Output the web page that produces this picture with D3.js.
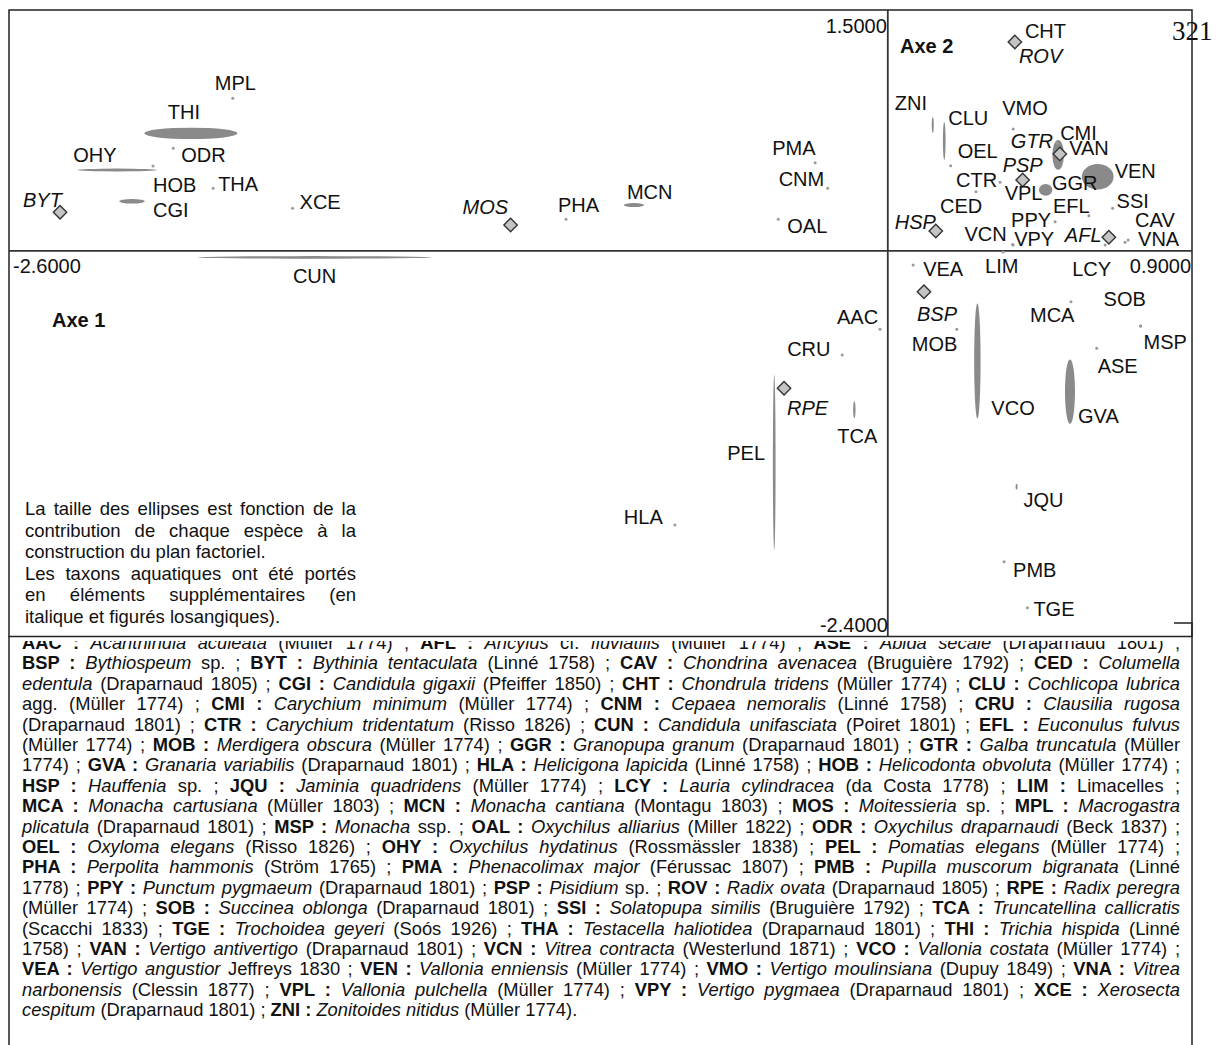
<!DOCTYPE html>
<html><head><meta charset="utf-8">
<script src="https://cdn.jsdelivr.net/npm/d3@7"></script>
<style>
html,body{margin:0;padding:0;background:#fff;}
svg{display:block;}
text{white-space:pre;}
</style></head><body>
<script>
// ---------- DATA ----------
const xDomain = [-2.6, 0.9];   // Axe 1
const yDomain = [-2.4, 1.5];   // Axe 2
const tickValuesX = [-2.6, 0.9];
const tickValuesY = [1.5, -2.4];

const species = ["MPL","THI","ODR","OHY","HOB","THA","CGI","BYT","XCE","MOS","PHA","MCN","PMA","CNM","OAL",
  "CUN","HLA","PEL","RPE","CRU","AAC","TCA","CHT","ROV","ZNI","CLU","VMO","OEL","CMI","GTR","VAN","PSP","CTR",
  "VPL","GGR","VEN","CED","EFL","SSI","PPY","VPY","VCN","HSP","AFL","LCY","VNA","CAV","LIM","VEA","BSP","MOB",
  "MCA","SOB","MSP","ASE","VCO","GVA","JQU","PMB","TGE"];
const axis1 = [-1.938,-2.062,-2.114,-2.280,-2.174,-1.996,-2.236,-2.449,-1.761,-1.116,-0.952,-0.751,-0.215,-0.178,-0.324,
  -1.695,-0.630,-0.336,-0.307,-0.135,-0.023,-0.099,0.376,0.376,0.133,0.167,0.371,0.186,0.501,0.509,0.504,0.399,0.332,
  0.467,0.598,0.621,0.261,0.595,0.665,0.495,0.371,0.369,0.142,0.654,0.643,0.702,0.711,0.341,0.075,0.107,0.204,
  0.542,0.748,0.748,0.618,0.265,0.539,0.381,0.344,0.413];
const axis2 = [0.950,0.732,0.639,0.504,0.529,0.390,0.309,0.241,0.266,0.162,0.197,0.286,0.549,0.390,0.197,
  -0.040,-1.706,-1.317,-0.855,-0.648,-0.488,-0.988,1.301,1.301,0.784,0.685,0.759,0.531,0.672,0.604,0.598,0.442,0.427,
  0.380,0.423,0.462,0.369,0.219,0.266,0.182,0.037,0.040,0.124,0.085,0.037,0.054,0.069,-0.006,-0.087,-0.254,-0.488,
  -0.316,-0.467,-0.467,-0.606,-0.685,-0.876,-1.468,-1.934,-2.221];
// contribution ellipses: semi-axes expressed in axis units (0 = simple point)
const contribAxis1 = {THI:0.138, OHY:0.118, CGI:0.038, MCN:0.030, CUN:0.346, PEL:0.004, TCA:0.0035, ZNI:0.003,
  CLU:0.004, VAN:0.017, VPL:0.020, VEN:0.047, VCO:0.0095, GVA:0.0148, JQU:0.003};
const contribAxis2 = {THI:0.0355, OHY:0.009, CGI:0.014, MCN:0.012, CUN:0.008, PEL:0.545, TCA:0.054, ZNI:0.050,
  CLU:0.118, VAN:0.093, VPL:0.037, VEN:0.079, VCO:0.358, GVA:0.201, JQU:0.019};
const aquatic = ["BYT","MOS","RPE","ROV","GTR","PSP","HSP","AFL","BSP"];

const noteLines = ["La taille des ellipses est fonction de la","contribution de chaque espèce à la",
  "construction du plan factoriel.","Les taxons aquatiques ont été portés","en éléments supplémentaires (en",
  "italique et figurés losangiques)."];

const legendLines = [
"*AAC :* _Acanthinula aculeata_ (Müller 1774) ; *AFL :* _Ancylus_ cf. _fluviatilis_ (Müller 1774) ; *ASE :* _Abida secale_ (Draparnaud 1801) ;",
"*BSP :* _Bythiospeum_ sp. ; *BYT :* _Bythinia tentaculata_ (Linné 1758) ; *CAV :* _Chondrina avenacea_ (Bruguière 1792) ; *CED :* _Columella_",
"_edentula_ (Draparnaud 1805) ; *CGI :* _Candidula gigaxii_ (Pfeiffer 1850) ; *CHT :* _Chondrula tridens_ (Müller 1774) ; *CLU :* _Cochlicopa lubrica_",
"agg. (Müller 1774) ; *CMI :* _Carychium minimum_ (Müller 1774) ; *CNM :* _Cepaea nemoralis_ (Linné 1758) ; *CRU :* _Clausilia rugosa_",
"(Draparnaud 1801) ; *CTR :* _Carychium tridentatum_ (Risso 1826) ; *CUN :* _Candidula unifasciata_ (Poiret 1801) ; *EFL :* _Euconulus fulvus_",
"(Müller 1774) ; *MOB :* _Merdigera obscura_ (Müller 1774) ; *GGR :* _Granopupa granum_ (Draparnaud 1801) ; *GTR :* _Galba truncatula_ (Müller",
"1774) ; *GVA :* _Granaria variabilis_ (Draparnaud 1801) ; *HLA :* _Helicigona lapicida_ (Linné 1758) ; *HOB :* _Helicodonta obvoluta_ (Müller 1774) ;",
"*HSP :* _Hauffenia_ sp. ; *JQU :* _Jaminia quadridens_ (Müller 1774) ; *LCY :* _Lauria cylindracea_ (da Costa 1778) ; *LIM :* Limacelles ;",
"*MCA :* _Monacha cartusiana_ (Müller 1803) ; *MCN :* _Monacha cantiana_ (Montagu 1803) ; *MOS :* _Moitessieria_ sp. ; *MPL :* _Macrogastra_",
"_plicatula_ (Draparnaud 1801) ; *MSP :* _Monacha_ ssp. ; *OAL :* _Oxychilus alliarius_ (Miller 1822) ; *ODR :* _Oxychilus draparnaudi_ (Beck 1837) ;",
"*OEL :* _Oxyloma elegans_ (Risso 1826) ; *OHY :* _Oxychilus hydatinus_ (Rossmässler 1838) ; *PEL :* _Pomatias elegans_ (Müller 1774) ;",
"*PHA :* _Perpolita hammonis_ (Ström 1765) ; *PMA :* _Phenacolimax major_ (Férussac 1807) ; *PMB :* _Pupilla muscorum bigranata_ (Linné",
"1778) ; *PPY :* _Punctum pygmaeum_ (Draparnaud 1801) ; *PSP :* _Pisidium_ sp. ; *ROV :* _Radix ovata_ (Draparnaud 1805) ; *RPE :* _Radix peregra_",
"(Müller 1774) ; *SOB :* _Succinea oblonga_ (Draparnaud 1801) ; *SSI :* _Solatopupa similis_ (Bruguière 1792) ; *TCA :* _Truncatellina callicratis_",
"(Scacchi 1833) ; *TGE :* _Trochoidea geyeri_ (Soós 1926) ; *THA :* _Testacella haliotidea_ (Draparnaud 1801) ; *THI :* _Trichia hispida_ (Linné",
"1758) ; *VAN :* _Vertigo antivertigo_ (Draparnaud 1801) ; *VCN :* _Vitrea contracta_ (Westerlund 1871) ; *VCO :* _Vallonia costata_ (Müller 1774) ;",
"*VEA :* _Vertigo angustior_ Jeffreys 1830 ; *VEN :* _Vallonia enniensis_ (Müller 1774) ; *VMO :* _Vertigo moulinsiana_ (Dupuy 1849) ; *VNA :* _Vitrea_",
"_narbonensis_ (Clessin 1877) ; *VPL :* _Vallonia pulchella_ (Müller 1774) ; *VPY :* _Vertigo pygmaea_ (Draparnaud 1801) ; *XCE :* _Xerosecta_",
"_cespitum_ (Draparnaud 1801) ; *ZNI :* _Zonitoides nitidus_ (Müller 1774)."
];

// ---------- LAYOUT (label offsets in px from the mark) ----------
const labelOffset = {MPL:[-18,-8],THI:[-23,-14],ODR:[8,14],OHY:[-44,-8],HOB:[0,26],THA:[5,3],CGI:[21,16],
  BYT:[-37,-5],XCE:[7,1],MOS:[-48,-11],PHA:[-8,-7],MCN:[-7,-6],PMA:[-43,-8],CNM:[-49,-2],OAL:[9,14],
  CUN:[-22,26],HLA:[-51,-1],PEL:[-47,-3],RPE:[3,27],CRU:[-55,1],AAC:[-43,-5],TCA:[-17,33],
  CHT:[10,-4],ROV:[4,21],ZNI:[-38,-15],CLU:[4,-16],VMO:[-11,-14],OEL:[7,-8],CMI:[3,-3],GTR:[-49,-6],
  VAN:[11,0],PSP:[-20,-8],CTR:[-44,5],VPL:[-41,10],GGR:[-38,7],VEN:[17,1],CED:[-36,21],EFL:[-36,-3],
  SSI:[4,0],PPY:[-44,5],VPY:[1,1],VCN:[-48,-4],HSP:[-41,-2],AFL:[-44,5],LCY:[-33,31],VNA:[13,4],CAV:[7,-13],
  LIM:[-18,21],VEA:[10,11],BSP:[-7,29],MOB:[-45,22],MCA:[-41,20],SOB:[-37,-20],MSP:[3,23],ASE:[1,25],
  VCO:[14,54],GVA:[8,31],JQU:[7,20],PMB:[9,15],TGE:[6,8]};

const W = 1216, H = 1045;
const plot = {left: 9, right: 1192, top: 10, bottom: 636.5};
const SANS = "'Liberation Sans', Arial, Helvetica, sans-serif";

const svg = d3.select("body").append("svg").attr("width", W).attr("height", H)
  .style("font-family", SANS);
svg.append("rect").attr("width", W).attr("height", H).attr("fill", "#fff");

const x = d3.scaleLinear().domain(xDomain).range([plot.left, plot.right]);
const y = d3.scaleLinear().domain(yDomain).range([plot.bottom, plot.top]);
const fmt = v => d3.format(".4f")(v).replace("\u2212", "-");

// frame
svg.append("rect").attr("x", plot.left).attr("y", plot.top)
  .attr("width", plot.right - plot.left).attr("height", plot.bottom - plot.top)
  .attr("fill", "none").attr("stroke", "#222").attr("stroke-width", 1.5);
// axes through origin
svg.append("line").attr("x1", x(xDomain[0])).attr("x2", x(xDomain[1])).attr("y1", y(0)).attr("y2", y(0))
  .attr("stroke", "#333").attr("stroke-width", 1.8);
svg.append("line").attr("x1", x(0)).attr("x2", x(0)).attr("y1", y(yDomain[0])).attr("y2", y(yDomain[1]))
  .attr("stroke", "#333").attr("stroke-width", 1.8);

// extreme tick labels
const tl = svg.append("g").attr("font-size", 20).attr("fill", "#111");
tl.append("text").attr("x", x(tickValuesX[0]) + 4).attr("y", y(0) + 22.5).text(fmt(tickValuesX[0]));
tl.append("text").attr("x", x(tickValuesX[1]) - 1).attr("y", y(0) + 22.5).attr("text-anchor", "end").text(fmt(tickValuesX[1]));
tl.append("text").attr("x", x(0) - 1).attr("y", y(tickValuesY[0]) + 23).attr("text-anchor", "end").text(fmt(tickValuesY[0]));
tl.append("text").attr("x", x(0)).attr("y", y(tickValuesY[1]) - 4.5).attr("text-anchor", "end").text(fmt(tickValuesY[1]));

// axis titles
svg.append("text").attr("x", 52).attr("y", 327).attr("font-weight", "bold").attr("font-size", 20).attr("fill", "#111").text("Axe 1");
svg.append("text").attr("x", 900).attr("y", 53).attr("font-weight", "bold").attr("font-size", 20).attr("fill", "#111").text("Axe 2");

// page number and crop mark
svg.append("text").attr("x", 1172).attr("y", 40).attr("font-family", "'Liberation Serif', 'Times New Roman', serif")
  .attr("font-size", 27).attr("fill", "#111").text("321");
svg.append("path").attr("d", "M1174,623H1192V640").attr("fill", "none").attr("stroke", "#222").attr("stroke-width", 1.5);

// ---------- MARKS ----------
const pts = species.map((c, i) => ({code: c, a1: axis1[i], a2: axis2[i],
  e1: contribAxis1[c] || 0, e2: contribAxis2[c] || 0, aq: aquatic.includes(c)}));
const marks = svg.append("g");
const pxPerX = x(1) - x(0), pxPerY = y(0) - y(1);
marks.selectAll("ellipse.contrib").data(pts.filter(d => !d.aq && d.e1 > 0)).join("ellipse")
  .attr("class", "contrib")
  .attr("cx", d => x(d.a1)).attr("cy", d => y(d.a2))
  .attr("rx", d => Math.max(0.9, d.e1 * pxPerX)).attr("ry", d => Math.max(0.9, d.e2 * pxPerY))
  .attr("fill", "#8a8a8a");
marks.selectAll("circle.pt").data(pts.filter(d => !d.aq && d.e1 === 0)).join("circle")
  .attr("class", "pt").attr("cx", d => x(d.a1)).attr("cy", d => y(d.a2)).attr("r", 1.5).attr("fill", "#999");
marks.selectAll("path.aq").data(pts.filter(d => d.aq)).join("path")
  .attr("class", "aq")
  .attr("transform", d => `translate(${x(d.a1)},${y(d.a2)})`)
  .attr("d", "M0,-6.7L6.7,0L0,6.7L-6.7,0Z")
  .attr("fill", "#c4c4c4").attr("stroke", "#333").attr("stroke-width", 1.4);

// labels
svg.append("g").selectAll("text").data(pts).join("text")
  .attr("x", d => x(d.a1) + labelOffset[d.code][0])
  .attr("y", d => y(d.a2) + labelOffset[d.code][1])
  .attr("font-size", 20).attr("fill", "#111")
  .attr("font-style", d => d.aq ? "italic" : null)
  .text(d => d.code);

// ---------- NOTE (bottom-left) ----------
function justify(sel, width) {
  const n = sel.node();
  const w = n.getComputedTextLength();
  const s = (n.textContent.match(/ /g) || []).length;
  if (s) sel.attr("word-spacing", (width - w) / s);
}
const note = svg.append("g").attr("font-size", 18.5).attr("fill", "#111");
noteLines.forEach((t, i) => {
  const tx = note.append("text").attr("x", 25).attr("y", 515 + i * 21.55).text(t);
  if (i !== 2 && i !== 5) justify(tx, 331);
});

// ---------- SPECIES LEGEND ----------
svg.append("line").attr("x1", 9).attr("x2", 9).attr("y1", 636).attr("y2", H).attr("stroke", "#222").attr("stroke-width", 1.5);
svg.append("line").attr("x1", 1192).attr("x2", 1192).attr("y1", 640).attr("y2", H).attr("stroke", "#222").attr("stroke-width", 1.5);
svg.append("defs").append("clipPath").attr("id", "legclip").append("rect")
  .attr("x", 0).attr("y", 641).attr("width", W).attr("height", H - 641);
const leg = svg.append("g").attr("clip-path", "url(#legclip)").attr("fill", "#111");
const legLeft = 22, legWidth = 1158;
function addLine(g, str, yy, fs) {
  const t = g.append("text").attr("x", legLeft).attr("y", yy).attr("font-size", fs);
  str.split(/(\*[^*]+\*|_[^_]+_)/).filter(s => s.length).forEach(seg => {
    const sp = t.append("tspan");
    if (seg[0] === "*") sp.attr("font-weight", "bold").text(seg.slice(1, -1));
    else if (seg[0] === "_") sp.attr("font-style", "italic").text(seg.slice(1, -1));
    else sp.text(seg);
  });
  return t;
}
// find size so the tightest justified line just fits
const probe = svg.append("g");
let maxW = 0;
legendLines.slice(0, -1).forEach(s => { const t = addLine(probe, s, 0, 16); maxW = Math.max(maxW, t.node().getComputedTextLength()); });
probe.remove();
const legFs = Math.max(13, Math.min(21, 16 * legWidth * 0.97 / maxW));
legendLines.forEach((s, i) => {
  const t = addLine(leg, s, 649 + i * 20.4, legFs);
  if (i < legendLines.length - 1) justify(t, legWidth);
});
</script></body></html>
